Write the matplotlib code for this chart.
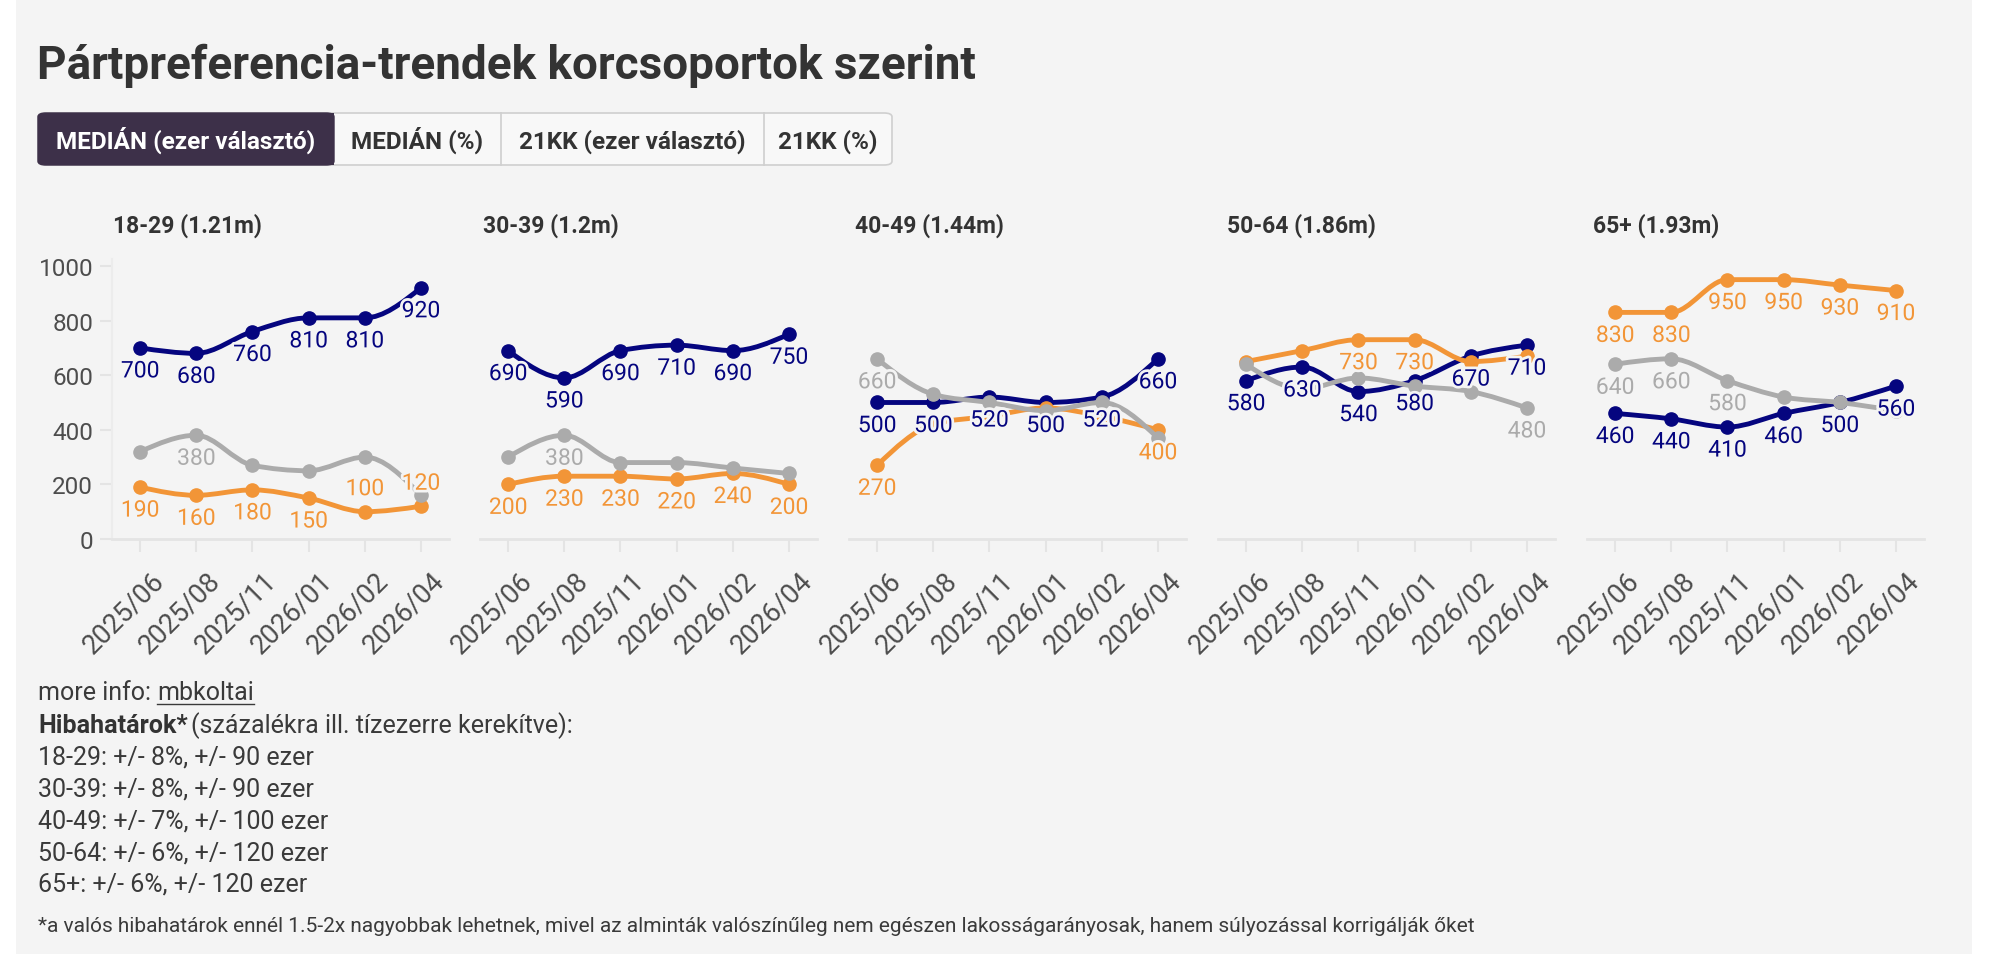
import matplotlib
matplotlib.use('Agg')
import matplotlib.pyplot as plt
from matplotlib.path import Path
from matplotlib.patches import PathPatch, FancyBboxPatch, Rectangle
from matplotlib.lines import Line2D
import matplotlib.patheffects as pe

W, H, DPI = 2000, 962, 100
plt.rcParams['font.family'] = ['Roboto', 'DejaVu Sans']

# ---------------- data ----------------
dates = ['2025/06', '2025/08', '2025/11', '2026/01', '2026/02', '2026/04']
groups = ['18-29 (1.21m)', '30-39 (1.2m)', '40-49 (1.44m)', '50-64 (1.86m)', '65+ (1.93m)']
navy_vals = [[700, 680, 760, 810, 810, 920],
             [690, 590, 690, 710, 690, 750],
             [500, 500, 520, 500, 520, 660],
             [580, 630, 540, 580, 670, 710],
             [460, 440, 410, 460, 500, 560]]
orange_vals = [[190, 160, 180, 150, 100, 120],
               [200, 230, 230, 220, 240, 200],
               [270, 420, 450, 480, 450, 400],
               [650, 690, 730, 730, 650, 670],
               [830, 830, 950, 950, 930, 910]]
gray_vals = [[320, 380, 270, 250, 300, 160],
             [300, 380, 280, 280, 260, 240],
             [660, 530, 500, 470, 500, 370],
             [640, 550, 590, 560, 540, 480],
             [640, 660, 580, 520, 500, 470]]
y_ticks = [0, 200, 400, 600, 800, 1000]
buttons = ['MEDIÁN (ezer választó)', 'MEDIÁN (%)', '21KK (ezer választó)', '21KK (%)']
title = 'Pártpreferencia-trendek korcsoportok szerint'
margin_lines = ['18-29: +/- 8%, +/- 90 ezer',
                '30-39: +/- 8%, +/- 90 ezer',
                '40-49: +/- 7%, +/- 100 ezer',
                '50-64: +/- 6%, +/- 120 ezer',
                '65+: +/- 6%, +/- 120 ezer']
footnote = ('*a valós hibahatárok ennél 1.5-2x nagyobbak lehetnek, mivel az alminták '
            'valószínűleg nem egészen lakosságarányosak, hanem súlyozással korrigálják őket')

# which value labels are visible (after the original's collision handling)
shown_labels = {
    'navy':   [[0, 1, 2, 3, 4, 5]] * 5,
    'orange': [[0, 1, 2, 3, 4, 5], [0, 1, 2, 3, 4, 5], [0, 5], [2, 3], [0, 1, 2, 3, 4, 5]],
    'gray':   [[1], [1], [0], [5], [0, 1, 2]],
}
labels_above = {('orange', 0): [4, 5]}

# ---------------- style ----------------
BG = '#f4f4f4'
TXT = '#333333'
TICK = '#4d4d4d'
AXC = '#e4e4e4'
colors = {'navy': '#05057f', 'orange': '#f29537', 'gray': '#ababab'}
series = [('navy', navy_vals), ('orange', orange_vals), ('gray', gray_vals)]

fig = plt.figure(figsize=(W / DPI, H / DPI), dpi=DPI, facecolor='white')


def fx(x):
    return x / W


def fy(y):
    return 1 - y / H


fig.patches.append(Rectangle((fx(16), fy(955)), fx(1972 - 16), 955 / H,
                             transform=fig.transFigure, facecolor=BG, edgecolor='none', zorder=-10))

# title
fig.text(fx(37), fy(79), title, fontsize=33, fontweight='bold', color=TXT, va='baseline', ha='left')

# buttons
bx = [38, 334, 501, 764, 892]
btop, bbot = 114, 166
fig.patches.append(FancyBboxPatch((fx(bx[0]), fy(bbot)), fx(bx[-1] - bx[0]), (bbot - btop) / H,
                                  boxstyle='round,pad=0,rounding_size=0.004', transform=fig.transFigure,
                                  facecolor='#f8f8f8', edgecolor='#cfcfcf', lw=1.2, zorder=1))
fig.patches.append(FancyBboxPatch((fx(bx[0]), fy(bbot)), fx(bx[1] - bx[0]), (bbot - btop) / H,
                                  boxstyle='round,pad=0,rounding_size=0.004', transform=fig.transFigure,
                                  facecolor='#3d3049', edgecolor='#3d3049', lw=1.0, zorder=2))
fig.patches.append(Rectangle((fx(bx[1] - 20), fy(bbot)), fx(20), (bbot - btop) / H,
                             transform=fig.transFigure, facecolor='#3d3049', edgecolor='none', zorder=2))
for xx in bx[2:4]:
    fig.lines.append(Line2D([fx(xx), fx(xx)], [fy(btop), fy(bbot)], transform=fig.transFigure,
                            color='#cfcfcf', lw=1.2, zorder=3))
for i, b in enumerate(buttons):
    fig.text(fx((bx[i] + bx[i + 1]) / 2), fy(149), b, fontsize=17.5, fontweight='bold',
             color='white' if i == 0 else TXT, ha='center', va='baseline', zorder=5)


# monotone-x cubic path (same as d3.curveMonotoneX)
def monotone_path(xs, ys):
    n = len(xs)
    t = [0.0] * n

    def sgn(v):
        return -1.0 if v < 0 else 1.0
    for i in range(1, n - 1):
        h0 = xs[i] - xs[i - 1]
        h1 = xs[i + 1] - xs[i]
        s0 = (ys[i] - ys[i - 1]) / h0
        s1 = (ys[i + 1] - ys[i]) / h1
        p = (s0 * h1 + s1 * h0) / (h0 + h1)
        t[i] = (sgn(s0) + sgn(s1)) * min(abs(s0), abs(s1), 0.5 * abs(p))
    h = xs[1] - xs[0]
    t[0] = (3 * (ys[1] - ys[0]) / h - t[1]) / 2
    h = xs[-1] - xs[-2]
    t[-1] = (3 * (ys[-1] - ys[-2]) / h - t[-2]) / 2
    verts = [(xs[0], ys[0])]
    codes = [Path.MOVETO]
    for i in range(n - 1):
        dx = (xs[i + 1] - xs[i]) / 3
        verts += [(xs[i] + dx, ys[i] + dx * t[i]), (xs[i + 1] - dx, ys[i + 1] - dx * t[i + 1]),
                  (xs[i + 1], ys[i + 1])]
        codes += [Path.CURVE4] * 3
    return Path(verts, codes)


ax_left = [112, 480, 849, 1218, 1587]
ax_w = 337
ax_top, ax_bot = 260, 540
title_x = [113, 483, 855, 1227, 1593]
xs = list(range(len(dates)))

for p in range(5):
    ax = fig.add_axes([fx(ax_left[p]), fy(ax_bot), fx(ax_w), (ax_bot - ax_top) / H])
    ax.set_facecolor('none')
    ax.set_xlim(-0.5, len(dates) - 0.5)
    ax.set_ylim(0, 1025.6)
    for s in ['top', 'right']:
        ax.spines[s].set_visible(False)
    ax.spines['bottom'].set_color(AXC)
    ax.spines['bottom'].set_linewidth(2.0)
    ax.set_xticks(xs)
    ax.set_xticklabels([])
    ax.tick_params(axis='x', length=9.5, width=1.5, color=AXC)
    if p == 0:
        ax.spines['left'].set_color('#ececec')
        ax.spines['left'].set_linewidth(1.5)
        ax.set_yticks(y_ticks)
        ax.set_yticklabels([str(v) for v in y_ticks])
        ax.tick_params(axis='y', length=8.6, width=1.5, color=AXC, labelsize=17.5,
                       labelcolor=TICK, pad=5)
    else:
        ax.spines['left'].set_visible(False)
        ax.set_yticks([])

    for i, d in enumerate(dates):
        ax.annotate(d, xy=(i, 0), xycoords=('data', 'axes fraction'), xytext=(10, -27),
                    textcoords='offset pixels', rotation=45, rotation_mode='anchor',
                    ha='right', va='top', fontsize=19.5, color=TICK, annotation_clip=False)

    for z, (name, vals) in enumerate(series):
        c = colors[name]
        ys = vals[p]
        ax.add_patch(PathPatch(monotone_path(xs, ys), fill=False, edgecolor=c, lw=3.5,
                               capstyle='round', joinstyle='round', zorder=2 + z))
        ax.plot(xs, ys, 'o', ms=9.5, color=c, mec=c, zorder=2 + z, clip_on=False)
        above = labels_above.get((name, p), [])
        for i in shown_labels[name][p]:
            dy = 23 if i in above else -23
            ax.annotate(str(ys[i]), xy=(xs[i], ys[i]), xytext=(0, dy), textcoords='offset pixels',
                        ha='center', va='center', fontsize=16.5, color=c, zorder=20,
                        annotation_clip=False,
                        path_effects=[pe.withStroke(linewidth=4, foreground=BG)])

    fig.text(fx(title_x[p]), fy(233), groups[p], fontsize=16.5, fontweight='bold', color=TXT,
             ha='left', va='baseline')

# bottom texts
renderer = fig.canvas.get_renderer()
FS = 18
t1 = fig.text(fx(38), fy(700), 'more info: ', fontsize=FS, color='#3a3a3a', va='baseline')
bb = t1.get_window_extent(renderer)
x2 = bb.x1
t2 = fig.text(x2 / W, fy(700), 'mbkoltai', fontsize=FS, color='#3a3a3a', va='baseline')
bb2 = t2.get_window_extent(renderer)
fig.lines.append(Line2D([bb2.x0 / W, bb2.x1 / W], [fy(705), fy(705)], transform=fig.transFigure,
                        color='#3a3a3a', lw=1.0))
t3 = fig.text(fx(38), fy(733), 'Hibahatárok*', fontsize=FS, fontweight='bold', color=TXT, va='baseline')
bb3 = t3.get_window_extent(renderer)
fig.text((bb3.x1 + 3) / W, fy(733), '(százalékra ill. tízezerre kerekítve):', fontsize=FS,
         color='#3a3a3a', va='baseline')
for k, line in enumerate(margin_lines):
    fig.text(fx(38), fy(765 + 31.7 * k), line, fontsize=FS, color='#3a3a3a', va='baseline')
fig.text(fx(38), fy(932), footnote, fontsize=15, color='#3a3a3a', va='baseline')

fig.savefig('out.png', dpi=DPI, facecolor='white')
